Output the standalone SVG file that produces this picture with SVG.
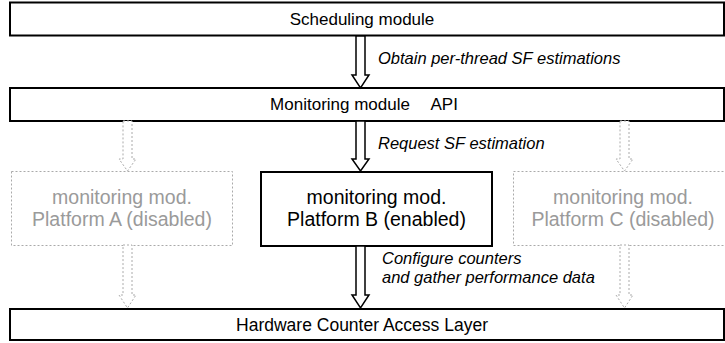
<svg xmlns="http://www.w3.org/2000/svg" width="725" height="343" viewBox="0 0 725 343">
<style>
.box{fill:#fff;stroke:#000;stroke-width:2}
.dbox{fill:#fff;stroke:#aaa;stroke-width:1;stroke-dasharray:2 2}
.t{font-family:"Liberation Sans",Arial,sans-serif;font-size:17px;fill:#000;text-anchor:middle}
.tg{font-family:"Liberation Sans",Arial,sans-serif;font-size:19.5px;fill:#9a9a9a;text-anchor:middle}
.tb{font-family:"Liberation Sans",Arial,sans-serif;font-size:19.5px;fill:#000;text-anchor:middle}
.lab{font-family:"Liberation Sans",Arial,sans-serif;font-size:16.5px;font-style:italic;fill:#000}
.arr{fill:#fff;stroke:#000;stroke-width:1.5;stroke-linejoin:miter}
.darr{fill:#fff;stroke:#aaa;stroke-width:1;stroke-dasharray:2 2}
</style>
<g id="scheduling">
<rect class="box" x="10" y="2.5" width="714" height="33"/>
<text class="t" x="362" y="25">Scheduling module</text>
</g>
<g id="api">
<rect class="box" x="10" y="88" width="714" height="33"/>
<text class="t" x="364" y="110" style="white-space:pre">Monitoring module  <tspan dx="12">API</tspan></text>
</g>
<g id="platformA">
<rect class="dbox" x="11.5" y="171.5" width="221" height="74"/>
<text class="tg" x="122" y="204">monitoring mod.</text>
<text class="tg" x="122" y="226">Platform A (disabled)</text>
</g>
<g id="platformB">
<rect class="box" x="261" y="172" width="231" height="74"/>
<text class="tb" x="376.5" y="204">monitoring mod.</text>
<text class="tb" x="376.5" y="226">Platform B (enabled)</text>
</g>
<g id="platformC">
<rect class="dbox" x="513.5" y="171.5" width="222" height="74"/>
<text class="tg" x="623" y="204">monitoring mod.</text>
<text class="tg" x="623" y="226">Platform C (disabled)</text>
</g>
<g id="hardware">
<rect class="box" x="10" y="309" width="714" height="31"/>
<text class="t" x="362" y="331" style="font-size:17.5px">Hardware Counter Access Layer</text>
</g>
<g id="connectors">
<polygon class="arr" points="356,36 365,36 365,75 369,75 360.5,88 352,75 356,75"/>
<polygon class="arr" points="356,121 365,121 365,159 369,159 360.5,171 352,159 356,159"/>
<polygon class="arr" points="356,246 365,246 365,295 369,295 360.5,308 352,295 356,295"/>
<polygon class="darr" points="123,121 132,121 132,159 136,159 127.5,171 119,159 123,159"/>
<polygon class="darr" points="123,245 132,245 132,295 136,295 127.5,308 119,295 123,295"/>
<polygon class="darr" points="620,121 629,121 629,159 633,159 624.5,171 616,159 620,159"/>
<polygon class="darr" points="620,245 629,245 629,295 633,295 624.5,308 616,295 620,295"/>
<text class="lab" x="378" y="64">Obtain per-thread SF estimations</text>
<text class="lab" x="378" y="149">Request SF estimation</text>
<text class="lab" x="382" y="264">Configure counters</text>
<text class="lab" x="382" y="283">and gather performance data</text>
</g>
</svg>
